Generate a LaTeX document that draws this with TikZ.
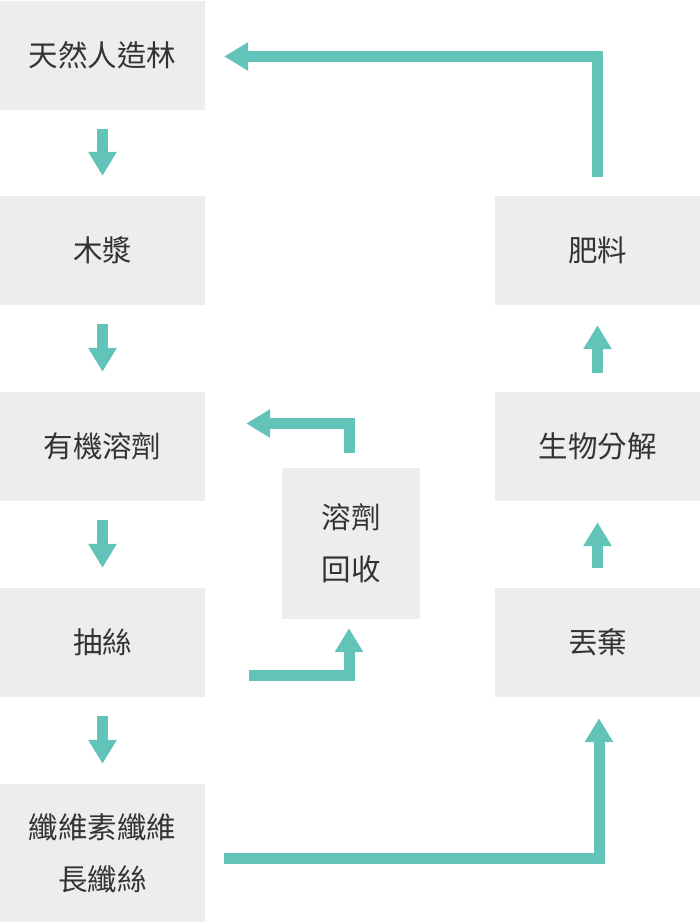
\documentclass[tikz,border=0pt]{standalone}
\usepackage{fontspec}
\newfontfamily\cjk{Noto Sans CJK TC}
\usetikzlibrary{arrows.meta}
\definecolor{teal}{HTML}{62C4B8}
\definecolor{boxgray}{HTML}{EDEDED}
\tikzset{
  box/.style={fill=boxgray, minimum width=205pt, minimum height=109pt, inner sep=0pt,
    font=\cjk\fontsize{29.5}{52}\selectfont, text=black!80, align=center},
  flow/.style={draw=teal, line width=11pt, line join=miter,
    -{Triangle[length=24pt,width=27pt]}},
}
\begin{document}
\begin{tikzpicture}[x=1pt, y=-1pt]
        \useasboundingbox (0,0) rectangle (700,922);
        \node[box] (forest) at (102.5,55) {天然人造林};
        \node[box] (pulp) at (102.5,250.5) {木漿};
        \node[box] (solvent) at (102.5,446.5) {有機溶劑};
        \node[box] (spin) at (102.5,642.5) {抽絲};
        \node[box, minimum height=138pt] (fiber) at (102.5,853) {纖維素纖維\\長纖絲};
        \node[box] (fert) at (597.5,250.5) {肥料};
        \node[box] (decomp) at (597.5,446.5) {生物分解};
        \node[box] (discard) at (597.5,642.5) {丟棄};
        \node[box, minimum width=138pt, minimum height=151pt] (recov) at (351,543.5) {溶劑\\回收};
        \draw[flow, shorten <=19pt, shorten >=20pt] (forest) -- (pulp);
        \draw[flow, shorten <=19pt, shorten >=20pt] (pulp) -- (solvent);
        \draw[flow, shorten <=19pt, shorten >=20pt] (solvent) -- (spin);
        \draw[flow, shorten <=19pt, shorten >=20pt] (spin) -- (fiber);
        \draw[flow, shorten <=20pt, shorten >=21pt] (discard) -- (decomp);
        \draw[flow, shorten <=19pt, shorten >=20pt] (decomp) -- (fert);
        \draw[flow, shorten <=19pt, shorten >=19pt] (fert.north) |- ([yshift=-1.5pt]forest.east);
        \coordinate (backin) at (349,423.5);
        \draw[flow, shorten <=15pt, shorten >=41pt] (recov.north -| backin) -- (backin) -- (backin -| solvent.east);
        \coordinate (spinout) at (249,675);
        \draw[flow, shorten >=9pt] (spinout) -| (recov.south -| backin);
        \coordinate (fiberout) at (224,858.5);
        \draw[flow, shorten >=21pt] (fiberout) -| ([xshift=1.5pt]discard.south);
    \end{tikzpicture}
\end{document}
